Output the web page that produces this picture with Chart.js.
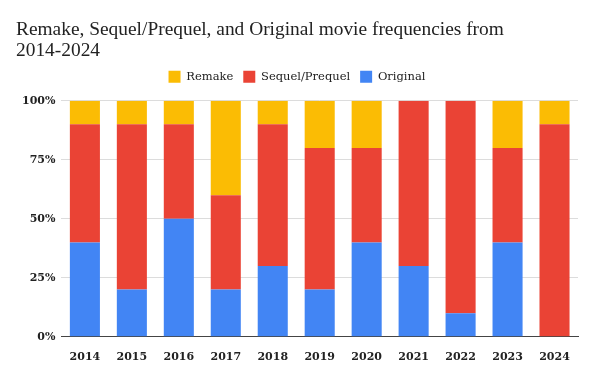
<!DOCTYPE html>
<html>
<head>
<meta charset="utf-8">
<script src="https://cdn.jsdelivr.net/npm/chart.js@4"></script>
<style>
  html, body { margin: 0; padding: 0; background: #fff; }
  #wrap { width: 600px; height: 371px; position: relative; }
</style>
</head>
<body>
<div id="wrap"><canvas id="movieChart"></canvas></div>
<script>
// Data (percent of films per year)
const years = ['2014', '2015', '2016', '2017', '2018', '2019', '2020', '2021', '2022', '2023', '2024'];
const remake = [10, 10, 10, 40, 10, 20, 20, 0, 0, 20, 10];
const sequel = [50, 70, 40, 40, 60, 60, 40, 70, 90, 40, 90];
const original = [40, 20, 50, 20, 30, 20, 40, 30, 10, 40, 0];
const yTicks = ['0%', '25%', '50%', '75%', '100%'];

const serif = '"DejaVu Serif", Georgia, serif';

// push the plot a little further below the legend
const legendGap = {
    id: 'legendGap',
    beforeInit(chart) {
        const fit = chart.legend.fit;
        chart.legend.fit = function() {
            fit.bind(chart.legend)();
            this.height += 8;
        };
    }
};

new Chart(document.getElementById('movieChart'), {
    type: 'bar',
    data: {
        labels: years,
        datasets: [
            { label: 'Original', data: original, backgroundColor: '#4285f4' },
            { label: 'Sequel/Prequel', data: sequel, backgroundColor: '#ea4335' },
            { label: 'Remake', data: remake, backgroundColor: '#fbbc04' }
        ]
    },
    options: {
        responsive: true,
        maintainAspectRatio: false,
        animation: false,
        layout: { padding: { left: 16, right: 22, top: 8, bottom: 1 } },
        datasets: { bar: { categoryPercentage: 0.64, barPercentage: 1, borderWidth: 0 } },
        scales: {
            x: {
                stacked: true,
                grid: { display: false },
                border: { color: '#444', width: 1 },
                ticks: { color: '#222', padding: 6, font: { family: serif, size: 11, weight: 'bold' } }
            },
            y: {
                stacked: true,
                min: 0,
                max: 100,
                grid: { color: '#dcdcdc', drawTicks: false },
                border: { display: false },
                ticks: {
                    stepSize: 25,
                    padding: 6,
                    color: '#222',
                    font: { family: serif, size: 11, weight: 'bold' },
                    callback: function(value) { return yTicks[value / 25]; }
                }
            }
        },
        plugins: {
            title: {
                display: true,
                text: ['Remake, Sequel/Prequel, and Original movie frequencies from', '2014-2024'],
                align: 'start',
                color: '#222',
                font: { family: '"Liberation Serif", serif', size: 19.4, weight: 'normal', lineHeight: 1.05 },
                padding: { top: 12, bottom: 0 }
            },
            legend: {
                position: 'top',
                reverse: true,
                labels: {
                    boxWidth: 12,
                    boxHeight: 12,
                    padding: 10,
                    color: '#222',
                    font: { family: serif, size: 11.5 }
                }
            },
            tooltip: { enabled: false }
        }
    },
    plugins: [legendGap]
});
</script>
</body>
</html>
